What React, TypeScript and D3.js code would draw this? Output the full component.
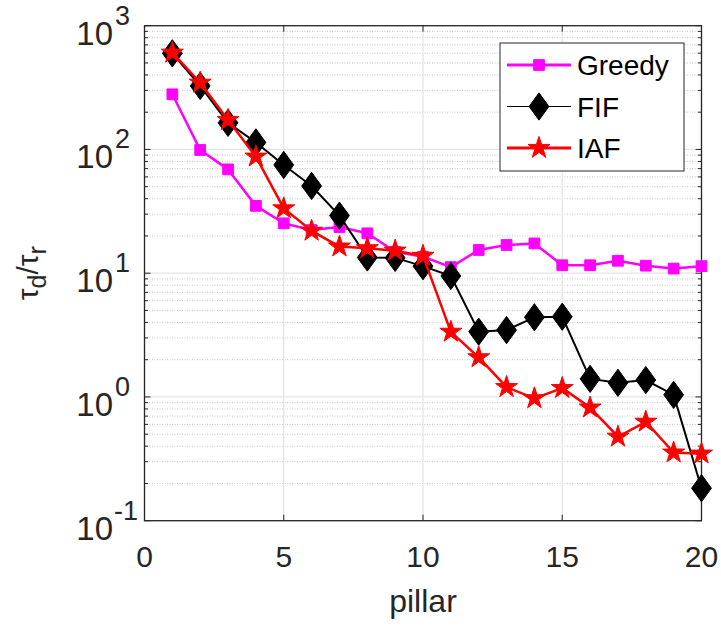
import React from 'react';
import * as d3 from 'd3';

// pillar index 1..20
const pillars = d3.range(1, 21);

const greedy = [279, 99, 69, 35, 25.3, 22.3, 23.6, 21, 14.9, 13.6, 11.2, 15.4, 16.9, 17.4, 11.6, 11.6, 12.6, 11.5, 10.9, 11.4];
const fif = [598, 326, 164, 114, 74.9, 50.7, 29.2, 13.4, 13.3, 11.4, 9.5, 3.37, 3.47, 4.4, 4.45, 1.4, 1.3, 1.37, 1.04, 0.183];
const iaf = [605, 346, 173, 87.4, 33.4, 22, 16.4, 15.9, 15.2, 13.8, 3.36, 2.09, 1.2, 0.975, 1.18, 0.82, 0.477, 0.63, 0.355, 0.348];

const xTicks = [0, 5, 10, 15, 20];
const yExps = [-1, 0, 1, 2, 3];

const series = [
  { name: 'Greedy', values: greedy, color: '#ff00ff', width: 2.5, marker: 'square' },
  { name: 'FIF', values: fif, color: '#000000', width: 2, marker: 'diamond' },
  { name: 'IAF', values: iaf, color: '#ff0000', width: 2.5, marker: 'star' },
];

const W = 721;
const H = 626;
const left = 144.5, right = 701.5, top = 25.7, bottom = 520.7;
const axisColor = '#262626';
const font = 'Arial, "Liberation Sans", Helvetica, sans-serif';

const x = d3.scaleLinear().domain([0, 20]).range([left, right]);
const y = d3.scaleLog().domain([0.1, 1000]).range([bottom, top]);

const minorTicks: number[] = [];
for (let e = -1; e < 3; e++) {
  for (let m = 2; m <= 9; m++) minorTicks.push(m * Math.pow(10, e));
}

const diamond = (s: number) => `M0,${-s * 0.62}L${s * 0.45},0L0,${s * 0.62}L${-s * 0.45},0Z`;

function Marker({ kind, color, cx, cy }: { kind: string; color: string; cx: number; cy: number }) {
  let d = '';
  if (kind === 'square') d = d3.symbol(d3.symbolSquare, 115)()!;
  else if (kind === 'diamond') d = diamond(22);
  else d = d3.symbol(d3.symbolStar, 150)()!;
  return <path d={d} transform={`translate(${cx},${cy})`} fill={color} stroke={color} strokeWidth={1} />;
}

export default function App() {
  const line = d3.line<number>().x((_, i) => x(pillars[i])).y(v => y(v));
  const legendX = 500, legendY = 43, legendW = 184, legendH = 128;
  return (
    <svg width={W} height={H} style={{ position: 'absolute', left: 0, top: 0, background: '#fff' }} fontFamily={font}>
      <rect x={0} y={0} width={W} height={H} fill="#fff" />
      {/* minor grid */}
      {minorTicks.map(t => (
        <line key={'mg' + t} x1={left} x2={right} y1={y(t)} y2={y(t)} stroke="#c8c8c8" strokeWidth={1} strokeDasharray="1,1.5" />
      ))}
      {/* major grid */}
      {yExps.map(e => (
        <line key={'yg' + e} x1={left} x2={right} y1={y(Math.pow(10, e))} y2={y(Math.pow(10, e))} stroke="#e3e3e3" strokeWidth={1.2} />
      ))}
      {xTicks.map(t => (
        <line key={'xg' + t} x1={x(t)} x2={x(t)} y1={top} y2={bottom} stroke="#e3e3e3" strokeWidth={1.2} />
      ))}
      {/* box + ticks */}
      <rect x={left} y={top} width={right - left} height={bottom - top} fill="none" stroke={axisColor} strokeWidth={1.3} />
      {xTicks.map(t => (
        <g key={'xt' + t}>
          <line x1={x(t)} x2={x(t)} y1={bottom} y2={bottom - 6} stroke={axisColor} />
          <line x1={x(t)} x2={x(t)} y1={top} y2={top + 6} stroke={axisColor} />
          <text x={x(t)} y={bottom + 46} textAnchor="middle" fontSize={30} fill={axisColor}>{t}</text>
        </g>
      ))}
      {yExps.map(e => (
        <g key={'yt' + e}>
          <line x1={left} x2={left + 6} y1={y(Math.pow(10, e))} y2={y(Math.pow(10, e))} stroke={axisColor} />
          <line x1={right} x2={right - 6} y1={y(Math.pow(10, e))} y2={y(Math.pow(10, e))} stroke={axisColor} />
          <text x={113} y={y(Math.pow(10, e)) + 19} textAnchor="end" fontSize={33} fill={axisColor}>10</text>
          <text x={e < 0 ? 114 : 115} y={y(Math.pow(10, e)) - 1} textAnchor="start" fontSize={27} fill={axisColor}>{e}</text>
        </g>
      ))}
      {minorTicks.map(t => (
        <g key={'mt' + t}>
          <line x1={left} x2={left + 3.5} y1={y(t)} y2={y(t)} stroke={axisColor} />
          <line x1={right} x2={right - 3.5} y1={y(t)} y2={y(t)} stroke={axisColor} />
        </g>
      ))}
      {/* axis labels */}
      <text x={(left + right) / 2} y={612} textAnchor="middle" fontSize={32} fill={axisColor}>pillar</text>
      <g transform={`translate(38,${(top + bottom) / 2}) rotate(-90)`}>
        <text textAnchor="middle" fontSize={30} fill={axisColor}>
          τ<tspan fontSize={25} dy={8}>d</tspan><tspan dy={-8}>/τ</tspan><tspan fontSize={25} dy={8}>r</tspan>
        </text>
      </g>
      {/* series */}
      {series.map(s => (
        <g key={s.name}>
          <path d={line(s.values)!} fill="none" stroke={s.color} strokeWidth={s.width} strokeLinejoin="round" />
          {s.values.map((v, i) => (
            <Marker key={i} kind={s.marker} color={s.color} cx={x(pillars[i])} cy={y(v)} />
          ))}
        </g>
      ))}
      {/* legend */}
      <rect x={legendX} y={legendY} width={legendW} height={legendH} fill="#fff" stroke={axisColor} strokeWidth={1} />
      {series.map((s, i) => {
        const ly = legendY + 22 + i * 41.5;
        return (
          <g key={'lg' + s.name}>
            <line x1={507} x2={571} y1={ly} y2={ly} stroke={s.color} strokeWidth={s.name === 'FIF' ? 1.2 : 2.8} />
            <Marker kind={s.marker} color={s.color} cx={539} cy={ly} />
            <text x={577} y={ly + 10} fontSize={28} fill="#000">{s.name}</text>
          </g>
        );
      })}
    </svg>
  );
}
